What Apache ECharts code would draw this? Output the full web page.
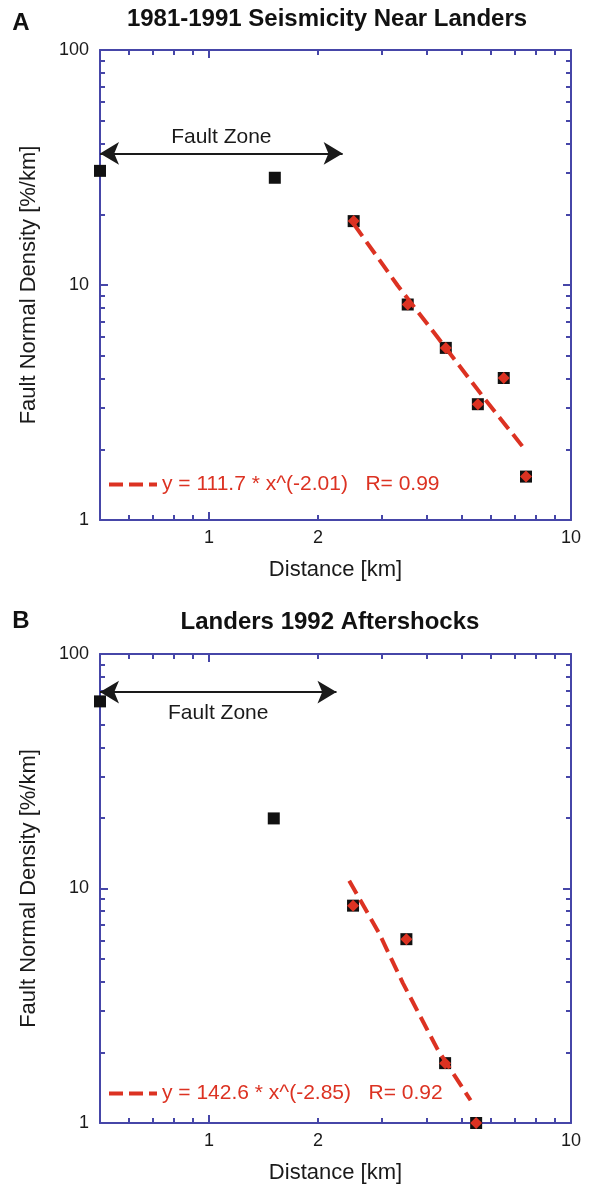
<!DOCTYPE html>
<html>
<head>
<meta charset="utf-8">
<script src="https://cdn.jsdelivr.net/npm/echarts@6/dist/echarts.min.js"></script>
<style>
html,body{margin:0;padding:0;background:#fff;}
#chart{width:592px;height:1185px;}
</style>
</head>
<body>
<div id="chart"></div>
<script>
// ---------- data ----------
const titleA = '1981-1991 Seismicity Near Landers';
const titleB = 'Landers 1992 Aftershocks';
const distA = [0.5, 1.52, 2.51, 3.54, 4.51, 5.53, 6.52, 7.51];
const densA = [30.6, 28.6, 18.7, 8.26, 5.40, 3.11, 4.02, 1.53];
const fitStartA = 2;              // first point used in the fit
const fitXA = [2.51, 3.32, 4.28, 5.74, 7.51];
const fitYA = [18.2, 9.95, 5.99, 3.32, 1.97];
const fitLabelA = 'y = 111.7 * x^(-2.01)   R= 0.99';
const arrowA = [0.5, 2.34, 36.3]; // from x, to x, at y

const distB = [0.5, 1.51, 2.50, 3.51, 4.49, 5.47];
const densB = [62.8, 19.9, 8.45, 6.08, 1.80, 1.0];
const fitStartB = 2;
const fitXB = [2.44, 2.95, 3.43, 4.28, 5.28];
const fitYB = [10.8, 6.45, 3.96, 2.06, 1.25];
const fitLabelB = 'y = 142.6 * x^(-2.85)   R= 0.92';
const arrowB = [0.5, 2.25, 68.8];

const xLabelValues = [1, 2, 10];
const xMajorTicks = [1];
const xMinorTicks = [0.6, 0.7, 0.8, 0.9, 2, 3, 4, 5, 6, 7, 8, 9];
const yLabelValues = [1, 10, 100];
const yMajorTicks = [10];
const yMinorTicks = [2, 3, 4, 5, 6, 7, 8, 9, 20, 30, 40, 50, 60, 70, 80, 90];
const xName = 'Distance [km]';
const yName = 'Fault Normal Density [%/km]';
const zoneLabel = 'Fault Zone';

// ---------- styling ----------
const FONT = '"Liberation Sans", Arial, Helvetica, sans-serif';
const AXIS = '#4646a8';
const RED = '#dc3222';
const INK = '#111111';
const TXT = '#1a1a1a';

function xAxesFor(gi) {
  const base = {type: 'log', gridIndex: gi, min: 0.5, max: 10, logBase: 10,
    splitLine: {show: false}, minorTick: {show: false}, minorSplitLine: {show: false}};
  const main = Object.assign({}, base, {
    position: 'bottom',
    axisLine: {show: true, lineStyle: {color: AXIS, width: 2}},
    axisTick: {show: true, inside: true, length: 8, customValues: xMajorTicks, lineStyle: {color: AXIS, width: 2}},
    axisLabel: {show: true, customValues: xLabelValues, color: TXT, fontSize: 18, fontFamily: FONT, margin: 9,
      formatter: v => String(Math.round(v))},
    name: xName, nameLocation: 'middle', nameGap: 39,
    nameTextStyle: {fontSize: 22, color: TXT, fontFamily: FONT}
  });
  const minor = pos => Object.assign({}, base, {
    position: pos,
    axisLine: {show: false},
    axisTick: {show: true, inside: true, length: 5, customValues: xMinorTicks, lineStyle: {color: AXIS, width: 2}},
    axisLabel: {show: false}
  });
  const top = Object.assign({}, base, {
    position: 'top',
    axisLine: {show: true, lineStyle: {color: AXIS, width: 2}},
    axisTick: {show: true, inside: true, length: 8, customValues: xMajorTicks, lineStyle: {color: AXIS, width: 2}},
    axisLabel: {show: false}
  });
  return [main, minor('bottom'), top, minor('top')];
}

function yAxesFor(gi) {
  const base = {type: 'log', gridIndex: gi, min: 1, max: 100, logBase: 10,
    splitLine: {show: false}, minorTick: {show: false}, minorSplitLine: {show: false}};
  const main = Object.assign({}, base, {
    position: 'left',
    axisLine: {show: true, lineStyle: {color: AXIS, width: 2}},
    axisTick: {show: true, inside: true, length: 8, customValues: yMajorTicks, lineStyle: {color: AXIS, width: 2}},
    axisLabel: {show: true, customValues: yLabelValues, color: TXT, fontSize: 18, fontFamily: FONT, margin: 11,
      formatter: v => String(Math.round(v))},
    name: yName, nameLocation: 'middle', nameGap: 60,
    nameTextStyle: {fontSize: 22, color: TXT, fontFamily: FONT}
  });
  const minor = pos => Object.assign({}, base, {
    position: pos,
    axisLine: {show: false},
    axisTick: {show: true, inside: true, length: 5, customValues: yMinorTicks, lineStyle: {color: AXIS, width: 2}},
    axisLabel: {show: false}
  });
  const right = Object.assign({}, base, {
    position: 'right',
    axisLine: {show: true, lineStyle: {color: AXIS, width: 2}},
    axisTick: {show: true, inside: true, length: 8, customValues: yMajorTicks, lineStyle: {color: AXIS, width: 2}},
    axisLabel: {show: false}
  });
  return [main, minor('left'), right, minor('right')];
}

function seriesFor(gi, xs, ys, fitStart, fx, fy, fitLabel, arrow, labelPos, labelDist) {
  const ax = gi * 4;
  const pts = xs.map((x, i) => [x, ys[i]]);
  return [
    {
      type: 'scatter', xAxisIndex: ax, yAxisIndex: ax, clip: false,
      symbol: 'rect', symbolSize: 12, itemStyle: {color: INK, opacity: 1}, z: 3,
      data: pts,
      markLine: {
        silent: true, animation: false, precision: 4,
        symbol: ['arrow', 'arrow'], symbolSize: [17, 19],
        lineStyle: {color: TXT, type: 'solid', width: 1.8},
        label: {show: true, formatter: zoneLabel, position: labelPos, distance: labelDist,
          color: TXT, fontSize: 21, fontFamily: FONT},
        data: [[{coord: [arrow[0], arrow[2]]}, {coord: [arrow[1], arrow[2]]}]]
      }
    },
    {
      type: 'scatter', xAxisIndex: ax, yAxisIndex: ax, clip: false,
      symbol: 'diamond', symbolSize: 12, itemStyle: {color: RED, opacity: 1}, z: 4,
      data: pts.slice(fitStart)
    },
    {
      type: 'line', name: fitLabel, xAxisIndex: ax, yAxisIndex: ax,
      symbol: 'none', z: 5, smooth: false,
      lineStyle: {color: RED, width: 4, type: [15, 7]},
      itemStyle: {color: RED},
      data: fx.map((x, i) => [x, fy[i]])
    }
  ];
}

const legendBase = {left: 102, itemWidth: 48, itemHeight: 14, selectedMode: false,
  itemStyle: {opacity: 0},
  lineStyle: {width: 4, type: [14, 6], color: RED},
  textStyle: {color: RED, fontSize: 21, fontFamily: FONT}};

const chart = echarts.init(document.getElementById('chart'), null, {renderer: 'canvas'});
chart.setOption({
  animation: false,
  backgroundColor: '#ffffff',
  textStyle: {fontFamily: FONT},
  grid: [
    {left: 100, top: 50, width: 471, height: 470},
    {left: 100, top: 654, width: 471, height: 472}
  ],
  xAxis: xAxesFor(0).concat(xAxesFor(1)),
  yAxis: yAxesFor(0).concat(yAxesFor(1)),
  legend: [
    Object.assign({}, legendBase, {data: [fitLabelA], top: 469}),
    Object.assign({}, legendBase, {data: [fitLabelB], top: 1078})
  ],
  graphic: [
    {type: 'text', x: 21, y: 23, style: {text: 'A', align: 'center', verticalAlign: 'middle',
      font: 'bold 24px ' + FONT, fill: INK}},
    {type: 'text', x: 327, y: 19, style: {text: titleA, align: 'center', verticalAlign: 'middle',
      font: 'bold 24px ' + FONT, fill: INK}},
    {type: 'text', x: 21, y: 621, style: {text: 'B', align: 'center', verticalAlign: 'middle',
      font: 'bold 24px ' + FONT, fill: INK}},
    {type: 'text', x: 330, y: 622, style: {text: titleB, align: 'center', verticalAlign: 'middle',
      font: 'bold 24px ' + FONT, fill: INK}}
  ],
  series: seriesFor(0, distA, densA, fitStartA, fitXA, fitYA, fitLabelA, arrowA, 'insideMiddleTop', 6)
    .concat(seriesFor(1, distB, densB, fitStartB, fitXB, fitYB, fitLabelB, arrowB, 'insideMiddleBottom', 11))
});
</script>
</body>
</html>
